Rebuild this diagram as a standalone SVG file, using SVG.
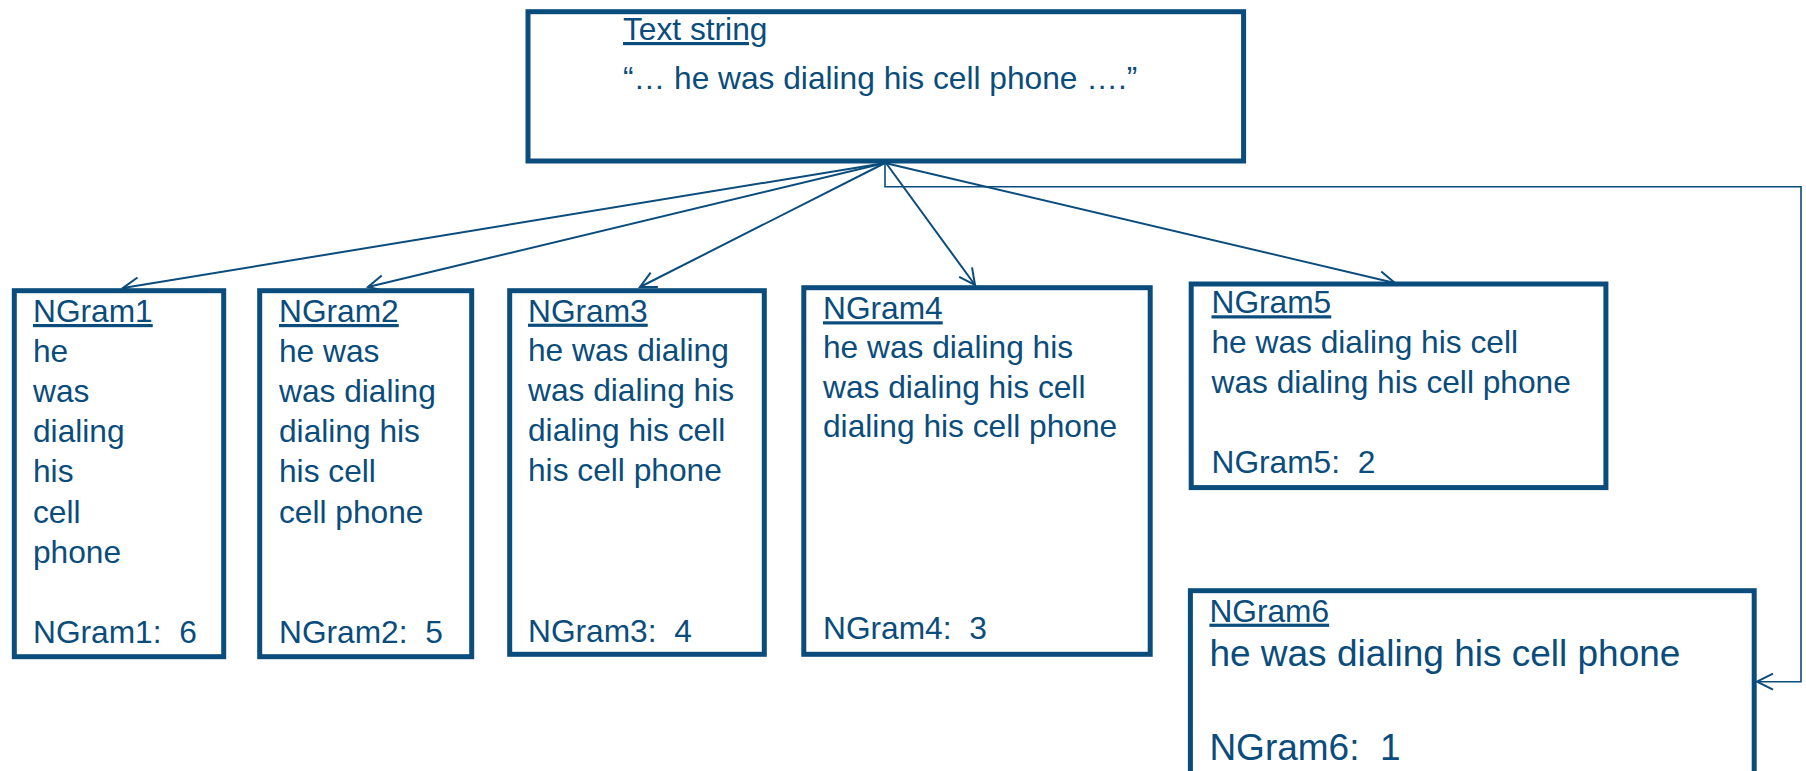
<svg xmlns="http://www.w3.org/2000/svg" width="1806" height="771" viewBox="0 0 1806 771">
<style>
.box{fill:#fff;stroke:#0a4c7c;stroke-width:5}
.t{font-family:"Liberation Sans",Arial,sans-serif;font-size:31.7px;fill:#0a4c7c}
.big{font-size:37px}
.u{text-decoration:underline}
.c{fill:none;stroke:#0a4c7c;stroke-width:2}
.r{fill:none;stroke:#0a4c7c;stroke-width:1.6}
</style>
<defs>
<marker id="ah" viewBox="0 0 20 20" refX="18" refY="10" markerWidth="20" markerHeight="20" markerUnits="userSpaceOnUse" orient="auto">
<path d="M2,2 L18,10 L2,18" fill="none" stroke="#0a4c7c" stroke-width="2"/>
</marker>
</defs>
<rect width="1806" height="771" fill="#fff"/>
<g id="connectors">
<line class="c" x1="885" y1="163" x2="123" y2="288" marker-end="url(#ah)"/>
<line class="c" x1="885" y1="163" x2="368" y2="287" marker-end="url(#ah)"/>
<line class="c" x1="885" y1="163" x2="640" y2="287" marker-end="url(#ah)"/>
<line class="c" x1="886" y1="163" x2="975" y2="285" marker-end="url(#ah)"/>
<line class="c" x1="885" y1="163" x2="1395" y2="283" marker-end="url(#ah)"/>
<path class="r" d="M885,163 V186.7 H1801 V681.7 H1757" marker-end="url(#ah)"/>
</g>
<g id="textstring">
<rect class="box" x="528" y="11.7" width="715.6" height="149.3"/>
<text class="t u" x="623" y="40">Text string</text>
<text class="t" x="623" y="89">“… he was dialing his cell phone ….”</text>
</g>
<g id="ngram1">
<rect class="box" x="14.3" y="290.7" width="209.4" height="366"/>
<text class="t u" x="33" y="322">NGram1</text>
<text class="t" x="33" y="362">he</text>
<text class="t" x="33" y="402">was</text>
<text class="t" x="33" y="442">dialing</text>
<text class="t" x="33" y="482">his</text>
<text class="t" x="33" y="523">cell</text>
<text class="t" x="33" y="563">phone</text>
<text class="t" x="33" y="643" xml:space="preserve">NGram1:  6</text>
</g>
<g id="ngram2">
<rect class="box" x="259.7" y="290.7" width="212" height="366"/>
<text class="t u" x="279" y="322">NGram2</text>
<text class="t" x="279" y="362">he was</text>
<text class="t" x="279" y="402">was dialing</text>
<text class="t" x="279" y="442">dialing his</text>
<text class="t" x="279" y="482">his cell</text>
<text class="t" x="279" y="523">cell phone</text>
<text class="t" x="279" y="643" xml:space="preserve">NGram2:  5</text>
</g>
<g id="ngram3">
<rect class="box" x="509.7" y="290.7" width="254.6" height="363.6"/>
<text class="t u" x="528" y="321.7">NGram3</text>
<text class="t" x="528" y="360.7">he was dialing</text>
<text class="t" x="528" y="400.7">was dialing his</text>
<text class="t" x="528" y="440.7">dialing his cell</text>
<text class="t" x="528" y="481">his cell phone</text>
<text class="t" x="528" y="641.7" xml:space="preserve">NGram3:  4</text>
</g>
<g id="ngram4">
<rect class="box" x="803.8" y="287.7" width="346.4" height="366.6"/>
<text class="t u" x="823" y="319.3">NGram4</text>
<text class="t" x="823" y="358.3">he was dialing his</text>
<text class="t" x="823" y="398.3">was dialing his cell</text>
<text class="t" x="823" y="437.3">dialing his cell phone</text>
<text class="t" x="823" y="639.3" xml:space="preserve">NGram4:  3</text>
</g>
<g id="ngram5">
<rect class="box" x="1191.2" y="284" width="414.7" height="203.6"/>
<text class="t u" x="1211.5" y="313.3">NGram5</text>
<text class="t" x="1211.5" y="353.3">he was dialing his cell</text>
<text class="t" x="1211.5" y="393.3">was dialing his cell phone</text>
<text class="t" x="1211.5" y="473.3" xml:space="preserve">NGram5:  2</text>
</g>
<g id="ngram6">
<rect class="box" x="1190.4" y="590.7" width="563.8" height="230"/>
<text class="t u" x="1209.4" y="621.7">NGram6</text>
<text class="t big" x="1209.4" y="666">he was dialing his cell phone</text>
<text class="t big" x="1209.4" y="760" xml:space="preserve">NGram6:  1</text>
</g>
</svg>
